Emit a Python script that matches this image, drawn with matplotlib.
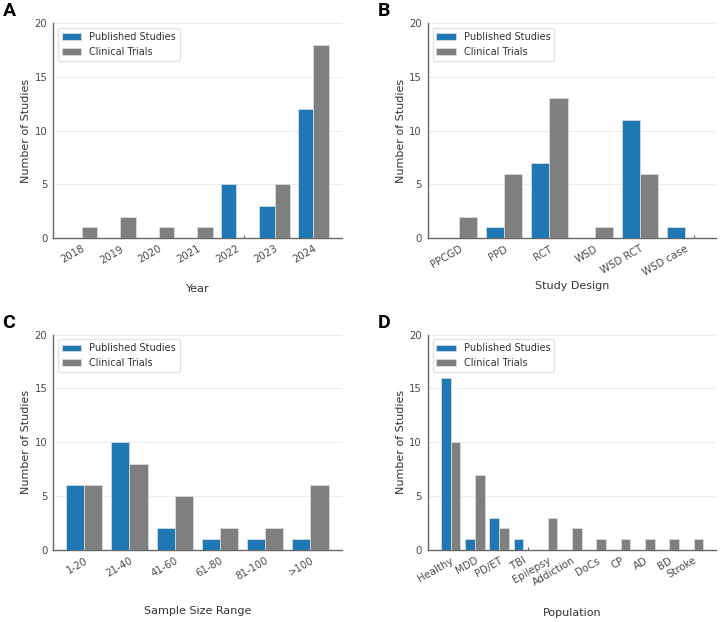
import matplotlib
matplotlib.use('Agg')
import matplotlib.pyplot as plt
import numpy as np

# panel A: by year
years = ['2018', '2019', '2020', '2021', '2022', '2023', '2024']
years_pub = [0, 0, 0, 0, 5, 3, 12]
years_ct = [1, 2, 1, 1, 0, 5, 18]

# panel B: study design
designs = ['PPCGD', 'PPD', 'RCT', 'WSD', 'WSD RCT', 'WSD case']
designs_pub = [0, 1, 7, 0, 11, 1]
designs_ct = [2, 6, 13, 1, 6, 0]

# panel C: sample size
sizes = ['1-20', '21-40', '41-60', '61-80', '81-100', '>100']
sizes_pub = [6, 10, 2, 1, 1, 1]
sizes_ct = [6, 8, 5, 2, 2, 6]

# panel D: population
pops = ['Healthy', 'MDD', 'PD/ET', 'TBI', 'Epilepsy', 'Addiction', 'DoCs',
        'CP', 'AD', 'BD', 'Stroke']
pops_pub = [16, 1, 3, 1, 0, 0, 0, 0, 0, 0, 0]
pops_ct = [10, 7, 2, 0, 3, 2, 1, 1, 1, 1, 1]

BLUE = '#1f77b4'
GRAY = '#7f7f7f'
TXT = '#333333'


def draw_panel(fig, rect, letter, cats, pub, ct, xlabel, xlab_y):
    ax = fig.add_axes(rect)
    x = np.arange(len(cats))
    w = 0.4
    ax.bar(x - w/2, pub, w, color=BLUE, edgecolor='#e0e0e0', linewidth=0.5,
           label='Published Studies', zorder=3)
    ax.bar(x + w/2, ct, w, color=GRAY, edgecolor='#e0e0e0', linewidth=0.5,
           label='Clinical Trials', zorder=3)
    # tiny stub left where a clinical-trials bar is zero
    zero = [i for i, v in enumerate(ct) if v == 0]
    if zero:
        ax.vlines(np.array(zero) + w/2, 0, 0.3, color='#666666', lw=0.8, zorder=4)
    ax.set_ylim(0, 20)
    ax.set_yticks([0, 5, 10, 15, 20])
    ax.set_xticks(x)
    ax.set_xticklabels(cats, rotation=30, ha='right', rotation_mode='anchor')
    ax.tick_params(length=0, labelsize=7.3, colors='#4a4a4a', pad=4)
    ax.grid(axis='y', color='#ededed', linewidth=0.8, zorder=0)
    for s in ['top', 'right']:
        ax.spines[s].set_visible(False)
    for s in ['left', 'bottom']:
        ax.spines[s].set_color('#666666')
        ax.spines[s].set_linewidth(1.0)
    ax.set_ylabel('Number of Studies', fontsize=8, color=TXT)
    ax.yaxis.set_label_coords(-0.075, 0.5)
    ax.set_xlabel(xlabel, fontsize=8, color=TXT)
    ax.xaxis.set_label_coords(0.5, xlab_y)
    leg = ax.legend(loc='upper left', fontsize=7, frameon=True)
    leg.get_frame().set_edgecolor('#dddddd')
    for t in leg.get_texts():
        t.set_color(TXT)
    fig.text(rect[0] - 0.07, rect[1] + rect[3] + 0.005, letter,
             fontsize=14, fontweight='bold', family='Roboto',
             va='bottom', ha='left')
    return ax


fig = plt.figure(figsize=(7.2, 6.22), dpi=100)
draw_panel(fig, [0.0736, 0.617, 0.401, 0.346], 'A', years, years_pub, years_ct, 'Year', -0.215)
draw_panel(fig, [0.594, 0.617, 0.401, 0.346], 'B', designs, designs_pub, designs_ct, 'Study Design', -0.20)
draw_panel(fig, [0.0736, 0.116, 0.401, 0.346], 'C', sizes, sizes_pub, sizes_ct, 'Sample Size Range', -0.26)
draw_panel(fig, [0.594, 0.116, 0.401, 0.346], 'D', pops, pops_pub, pops_ct, 'Population', -0.27)

fig.savefig('out.png', dpi=100, facecolor='white')
